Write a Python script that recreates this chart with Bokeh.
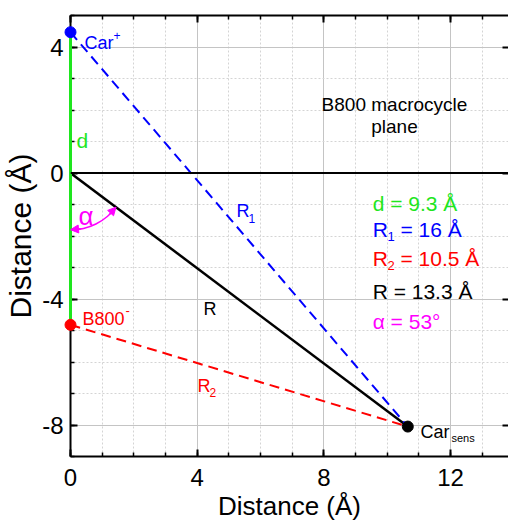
import math
from bokeh.plotting import figure
from bokeh.models import (LinearAxis, SingleIntervalTicker, Span, Arrow,
                          NormalHead, Range1d, PrintfTickFormatter)
from bokeh.core.properties import value
from bokeh.embed import file_html
from bokeh.resources import INLINE

FONT = "Liberation Sans"

# ---------------- data ----------------
point_names = ["Car+", "B800-", "Car_sens"]
point_x = [0.0, 0.0, 10.65]
point_y = [4.47, -4.82, -8.05]
point_colors = ["#0000ff", "#ff0000", "#000000"]

x_range_lim = [0.0, 13.83]
y_range_lim = [-9.0, 5.0]
tick_interval = 4
x_tick_values = [0, 4, 8, 12]
y_tick_values = [-8, -4, 0, 4]
axis_title = "Distance (Å)"

result_d = 9.3
result_R1 = 16
result_R2 = 10.5
result_R = 13.3
result_alpha = 53
arc_radius = 1.8

GREEN = "#1ee61e"
BLUE = "#0000ff"
RED = "#ff0000"
MAG = "#ff00ff"

p = figure(width=508, height=523,
           x_range=Range1d(*x_range_lim), y_range=Range1d(*y_range_lim),
           output_backend="svg", toolbar_location=None,
           min_border_left=70, min_border_right=0, min_border_top=15,
           min_border_bottom=67, outline_line_color=None)

def style_axis(ax, labels=True, tick_values=None):
    ax.ticker = SingleIntervalTicker(interval=tick_interval, num_minor_ticks=4)
    ax.axis_line_width = 2
    ax.axis_line_color = "black"
    ax.major_tick_in = 7
    ax.major_tick_out = 0
    ax.minor_tick_in = 4
    ax.minor_tick_out = 0
    ax.major_tick_line_width = 2
    ax.minor_tick_line_width = 1.5
    ax.major_tick_line_color = "black"
    ax.minor_tick_line_color = "black"
    ax.formatter = PrintfTickFormatter(format="%d")
    if labels:
        ax.major_label_text_font = FONT
        ax.major_label_text_font_size = "24px"
        ax.major_label_text_color = "black"
        ax.axis_label_text_font = FONT
        ax.axis_label_text_font_size = "26px"
        ax.axis_label_text_font_style = "normal"
        ax.axis_label_text_color = "black"
    else:
        ax.major_label_overrides = {v: "" for v in tick_values}
        ax.major_label_text_font_size = "1px"
        ax.major_label_standoff = 0

style_axis(p.xaxis[0])
style_axis(p.yaxis[0])
p.xaxis.axis_label = axis_title
p.yaxis.axis_label = axis_title
p.yaxis.axis_label_text_font_size = "30px"
p.xaxis.major_label_standoff = 12
p.yaxis.major_label_standoff = 7
p.xaxis.axis_label_standoff = 2
p.yaxis.axis_label_standoff = 2

top = LinearAxis()
style_axis(top, labels=False, tick_values=x_tick_values)
p.add_layout(top, "above")

right = LinearAxis()
style_axis(right, labels=False, tick_values=y_tick_values)
right.axis_line_color = None
right.minor_tick_in = 0
right.major_tick_in = 6
p.add_layout(right, "right")

for g in (p.xgrid[0], p.ygrid[0]):
    g.grid_line_color = "#c4c4c4"
    g.grid_line_width = 1
    g.minor_grid_line_color = "#d4d4d4"
    g.minor_grid_line_dash = "2 2"
    g.minor_grid_line_width = 1

# zero line
p.add_layout(Span(location=0, dimension="width", line_color="black", line_width=2))

# lines
cx, cy = point_x[2], point_y[2]
p.line([0, cx], [0, cy], line_color="black", line_width=2.5)
p.line([point_x[0], cx], [point_y[0], cy], line_color=BLUE, line_width=2,
       line_dash="10 6")
p.line([point_x[1], cx], [point_y[1], cy], line_color=RED, line_width=2,
       line_dash="10 6")
gl = p.line([point_x[0], point_x[1]], [point_y[0], point_y[1]],
            line_color=GREEN, line_width=3)
gl.level = "annotation"

dots = p.scatter(point_x, point_y, size=11, color=point_colors)
dots.level = "overlay"

# angle arc
theta = math.atan2(cy, cx)
p.arc(x=[0], y=[0], radius=arc_radius, start_angle=-math.pi / 2,
      end_angle=theta, line_color=MAG, line_width=1.5)
da = 0.18
for a_end, a_start in ((-math.pi / 2, -math.pi / 2 + da), (theta, theta - da)):
    p.add_layout(Arrow(
        end=NormalHead(size=8, fill_color=MAG, line_color=MAG),
        x_start=arc_radius * math.cos(a_start), y_start=arc_radius * math.sin(a_start),
        x_end=arc_radius * math.cos(a_end), y_end=arc_radius * math.sin(a_end),
        line_color=MAG, line_width=1.5))

def txt(x, y, s, color, size, align="left"):
    r = p.text(x=[x], y=[y], text=[s], text_color=color,
               text_font=value(FONT), text_font_size=f"{size}px",
               text_align=align, text_baseline="alphabetic")
    r.level = "overlay"

# point labels
txt(0.44, 4.13, "Car", BLUE, 18)
txt(1.36, 4.38, "+", BLUE, 12)
txt(0.38, -4.63, "B800", RED, 18)
txt(1.74, -4.36, "-", RED, 13)
txt(11.05, -8.22, "Car", "black", 18)
txt(12.03, -8.41, "sens", "black", 11)

# line labels
txt(0.19, 1.02, "d", GREEN, 21)
txt(0.25, -1.36, "α", MAG, 26)
txt(5.24, -1.21, "R", BLUE, 18)
txt(5.62, -1.43, "1", BLUE, 12)
txt(4.2, -4.32, "R", "black", 18)
txt(4.01, -6.76, "R", RED, 18)
txt(4.39, -6.98, "2", RED, 12)

# plane label
txt(10.23, 2.19, "B800 macrocycle", "black", 19, "center")
txt(10.23, 1.49, "plane", "black", 19, "center")

# results block
bx = 9.54
txt(bx, -0.98, f"d = {result_d} Å", GREEN, 21)
txt(bx, -1.78, "R", BLUE, 21)
txt(bx + 0.47, -2.03, "1", BLUE, 13)
txt(bx + 0.88, -1.78, f"= {result_R1} Å", BLUE, 21)
txt(bx, -2.70, "R", RED, 21)
txt(bx + 0.47, -2.95, "2", RED, 13)
txt(bx + 0.88, -2.70, f"= {result_R2} Å", RED, 21)
txt(bx, -3.75, f"R = {result_R} Å", "black", 21)
txt(bx, -4.70, f"α = {result_alpha}°", MAG, 21)

open("out.html", "w").write(file_html(p, INLINE))
